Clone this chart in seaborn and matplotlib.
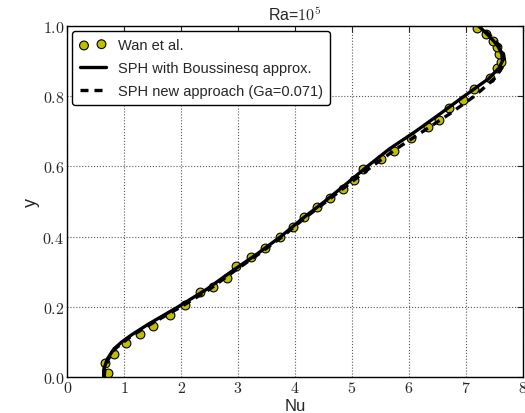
import matplotlib
matplotlib.use("Agg")
import matplotlib.pyplot as plt
import seaborn as sns
import pandas as pd
import numpy as np

# Wan et al. reference data (Nu, y)
wan_nu = [0.71, 0.67, 0.82, 1.04, 1.27, 1.50, 1.81, 2.07, 2.33, 2.56, 2.80, 2.97,
          3.23, 3.48, 3.73, 3.96, 4.16, 4.39, 4.62, 4.84, 5.04, 5.20, 5.51, 5.73,
          6.04, 6.33, 6.52, 6.71, 6.94, 7.15, 7.43, 7.55, 7.61, 7.58, 7.55, 7.47,
          7.35, 7.20]
wan_y = [0.011, 0.039, 0.066, 0.097, 0.122, 0.146, 0.177, 0.206, 0.241, 0.257, 0.282, 0.315,
         0.341, 0.368, 0.398, 0.426, 0.455, 0.483, 0.509, 0.536, 0.562, 0.591, 0.621, 0.643,
         0.680, 0.711, 0.732, 0.766, 0.789, 0.819, 0.851, 0.879, 0.898, 0.920, 0.939, 0.958,
         0.977, 0.993]

# SPH with Boussinesq approx.
line_y = [0.0, 0.02, 0.05, 0.08, 0.10, 0.12, 0.15, 0.20, 0.25, 0.30, 0.35, 0.40, 0.45,
          0.50, 0.55, 0.60, 0.65, 0.70, 0.75, 0.80, 0.85, 0.88, 0.90, 0.92, 0.94, 0.96,
          0.98, 1.00]
bous_nu = [0.64, 0.64, 0.70, 0.82, 0.96, 1.13, 1.42, 1.95, 2.45, 2.88, 3.33, 3.75, 4.12,
           4.52, 4.90, 5.27, 5.66, 6.12, 6.55, 6.97, 7.40, 7.58, 7.64, 7.63, 7.57, 7.47,
           7.35, 7.22]
# SPH new approach (Ga=0.071)
new_nu = [0.65, 0.66, 0.72, 0.84, 0.99, 1.16, 1.46, 2.00, 2.50, 2.92, 3.36, 3.78, 4.15,
          4.55, 4.95, 5.35, 5.78, 6.25, 6.72, 7.15, 7.50, 7.63, 7.68, 7.66, 7.60, 7.50,
          7.38, 7.25]

xticks = [0, 1, 2, 3, 4, 5, 6, 7, 8]
yticks = [0.0, 0.2, 0.4, 0.6, 0.8, 1.0]

sns.set_style("white")
plt.rcParams["font.family"] = ["Liberation Sans", "DejaVu Sans"]
plt.rcParams["mathtext.fontset"] = "cm"

fig = plt.figure(figsize=(5.25, 4.14), dpi=100)
ax = fig.add_axes([0.128, 0.087, 0.868, 0.848])

wan = pd.DataFrame({"Nu": wan_nu, "y": wan_y})
bous = pd.DataFrame({"Nu": bous_nu, "y": line_y})
new = pd.DataFrame({"Nu": new_nu, "y": line_y})

sns.scatterplot(data=wan, x="Nu", y="y", ax=ax, color="#bfbf00", edgecolor="black",
                linewidth=0.8, s=40, zorder=2, label="Wan et al.")
sns.lineplot(data=bous, x="Nu", y="y", ax=ax, sort=False, estimator=None, color="black",
             linewidth=2.4, zorder=3, label="SPH with Boussinesq approx.")
sns.lineplot(data=new, x="Nu", y="y", ax=ax, sort=False, estimator=None, color="black",
             linewidth=2.4, linestyle=(0, (2.4, 1.8)), zorder=3,
             label="SPH new approach (Ga=0.071)")

ax.set_xlim(0, 8)
ax.set_ylim(0, 1)
ax.set_xticks(xticks)
ax.set_xticklabels([f"${v}$" for v in xticks])
ax.set_yticks(yticks)
ax.set_yticklabels([f"${v:.1f}$" for v in yticks])
ax.tick_params(direction="in", length=4, width=0.8, labelsize=11.5, top=True, right=True,
               pad=2)
ax.grid(True, color="0.35", linestyle=":", linewidth=0.8)
for s in ax.spines.values():
    s.set_color("black")
    s.set_linewidth(1.0)

ax.set_xlabel("Nu", fontsize=12)
ax.xaxis.set_label_coords(0.5, -0.06, transform=ax.transAxes)
ax.xaxis.label.set_va("top")
ax.set_ylabel("y", fontsize=13, labelpad=2)
ax.set_title("Ra=$10^5$", fontsize=11.5, pad=4)

leg = ax.legend(loc="upper left", scatterpoints=2, fontsize=10.5, frameon=True, fancybox=True,
                edgecolor="black", framealpha=1, borderaxespad=0.35, handlelength=1.8,
                labelspacing=0.6, borderpad=0.5)
leg.get_frame().set_linewidth(1.0)

fig.savefig("out.png", dpi=100)
